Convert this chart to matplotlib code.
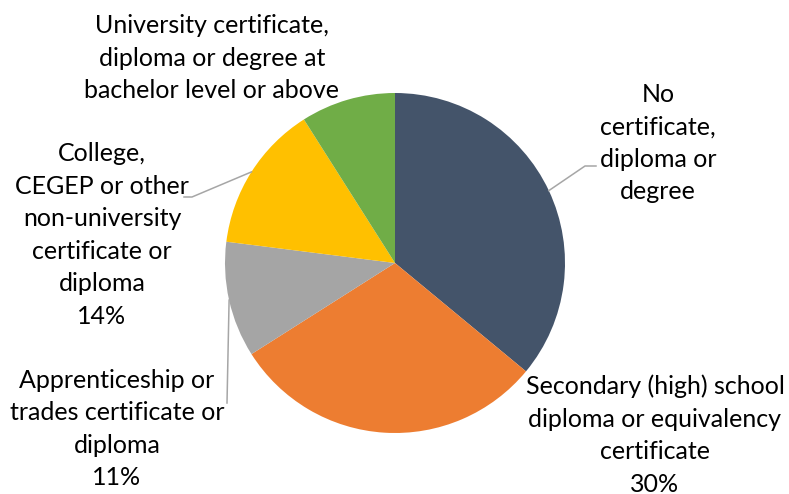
# pie chart of highest certificate, diploma or degree
# save to out.png

import matplotlib.pyplot as plt
from matplotlib.lines import Line2D
import numpy as np

categories = ['No certificate, diploma or degree',
              'Secondary (high) school diploma or equivalency certificate',
              'Apprenticeship or trades certificate or diploma',
              'College, CEGEP or other non-university certificate or diploma',
              'University certificate, diploma or degree at bachelor level or above']
values = [36, 30, 11, 14, 9]
# label text as wrapped in the chart (percent shown for some only)
label_text = ['No\ncertificate,\ndiploma or\ndegree',
              'Secondary (high) school\ndiploma or equivalency\ncertificate\n30%',
              'Apprenticeship or\ntrades certificate or\ndiploma\n11%',
              'College,\nCEGEP or other\nnon-university\ncertificate or\ndiploma\n14%',
              'University certificate,\ndiploma or degree at\nbachelor level or above']

colors = ['#44546A', '#ED7D31', '#A5A5A5', '#FFC000', '#70AD47']

W, H = 789, 494
cx, cy, r = 395, 263, 170

fig = plt.figure(figsize=(W / 100, H / 100), dpi=100)
ax = fig.add_axes([(cx - r) / W, (H - cy - r) / H, 2 * r / W, 2 * r / H])
ax.pie(values, colors=colors, startangle=90, counterclock=False, radius=1)
ax.set_xlim(-1, 1)
ax.set_ylim(-1, 1)
ax.axis('off')


def fx(x, y):
    return x / W, 1 - y / H


# label centers (pixels) and leader line ends
label_pos = [(658, 143), (655, 435), (117, 429), (102, 235), (212, 58)]
leaders = {0: [(585, 166), (596, 166)],
           2: [(227, 403)],
           3: [(192, 197), (184, 197)]}

for i, txt in enumerate(label_text):
    x, y = fx(*label_pos[i])
    fig.text(x, y, txt, ha='center', va='center', fontsize=18,
             family='Lato', color='#000000', linespacing=1.5)

cum = np.cumsum([0] + values[:-1])
for i, pts in leaders.items():
    mid = 90 - 360 * (cum[i] + values[i] / 2) / sum(values)
    sx = cx + r * np.cos(np.radians(mid))
    sy = cy - r * np.sin(np.radians(mid))
    path = [(sx, sy)] + pts
    xs = [p[0] / W for p in path]
    ys = [1 - p[1] / H for p in path]
    fig.add_artist(Line2D(xs, ys, color='#A6A6A6', lw=1.1))

fig.savefig('out.png', dpi=100)
